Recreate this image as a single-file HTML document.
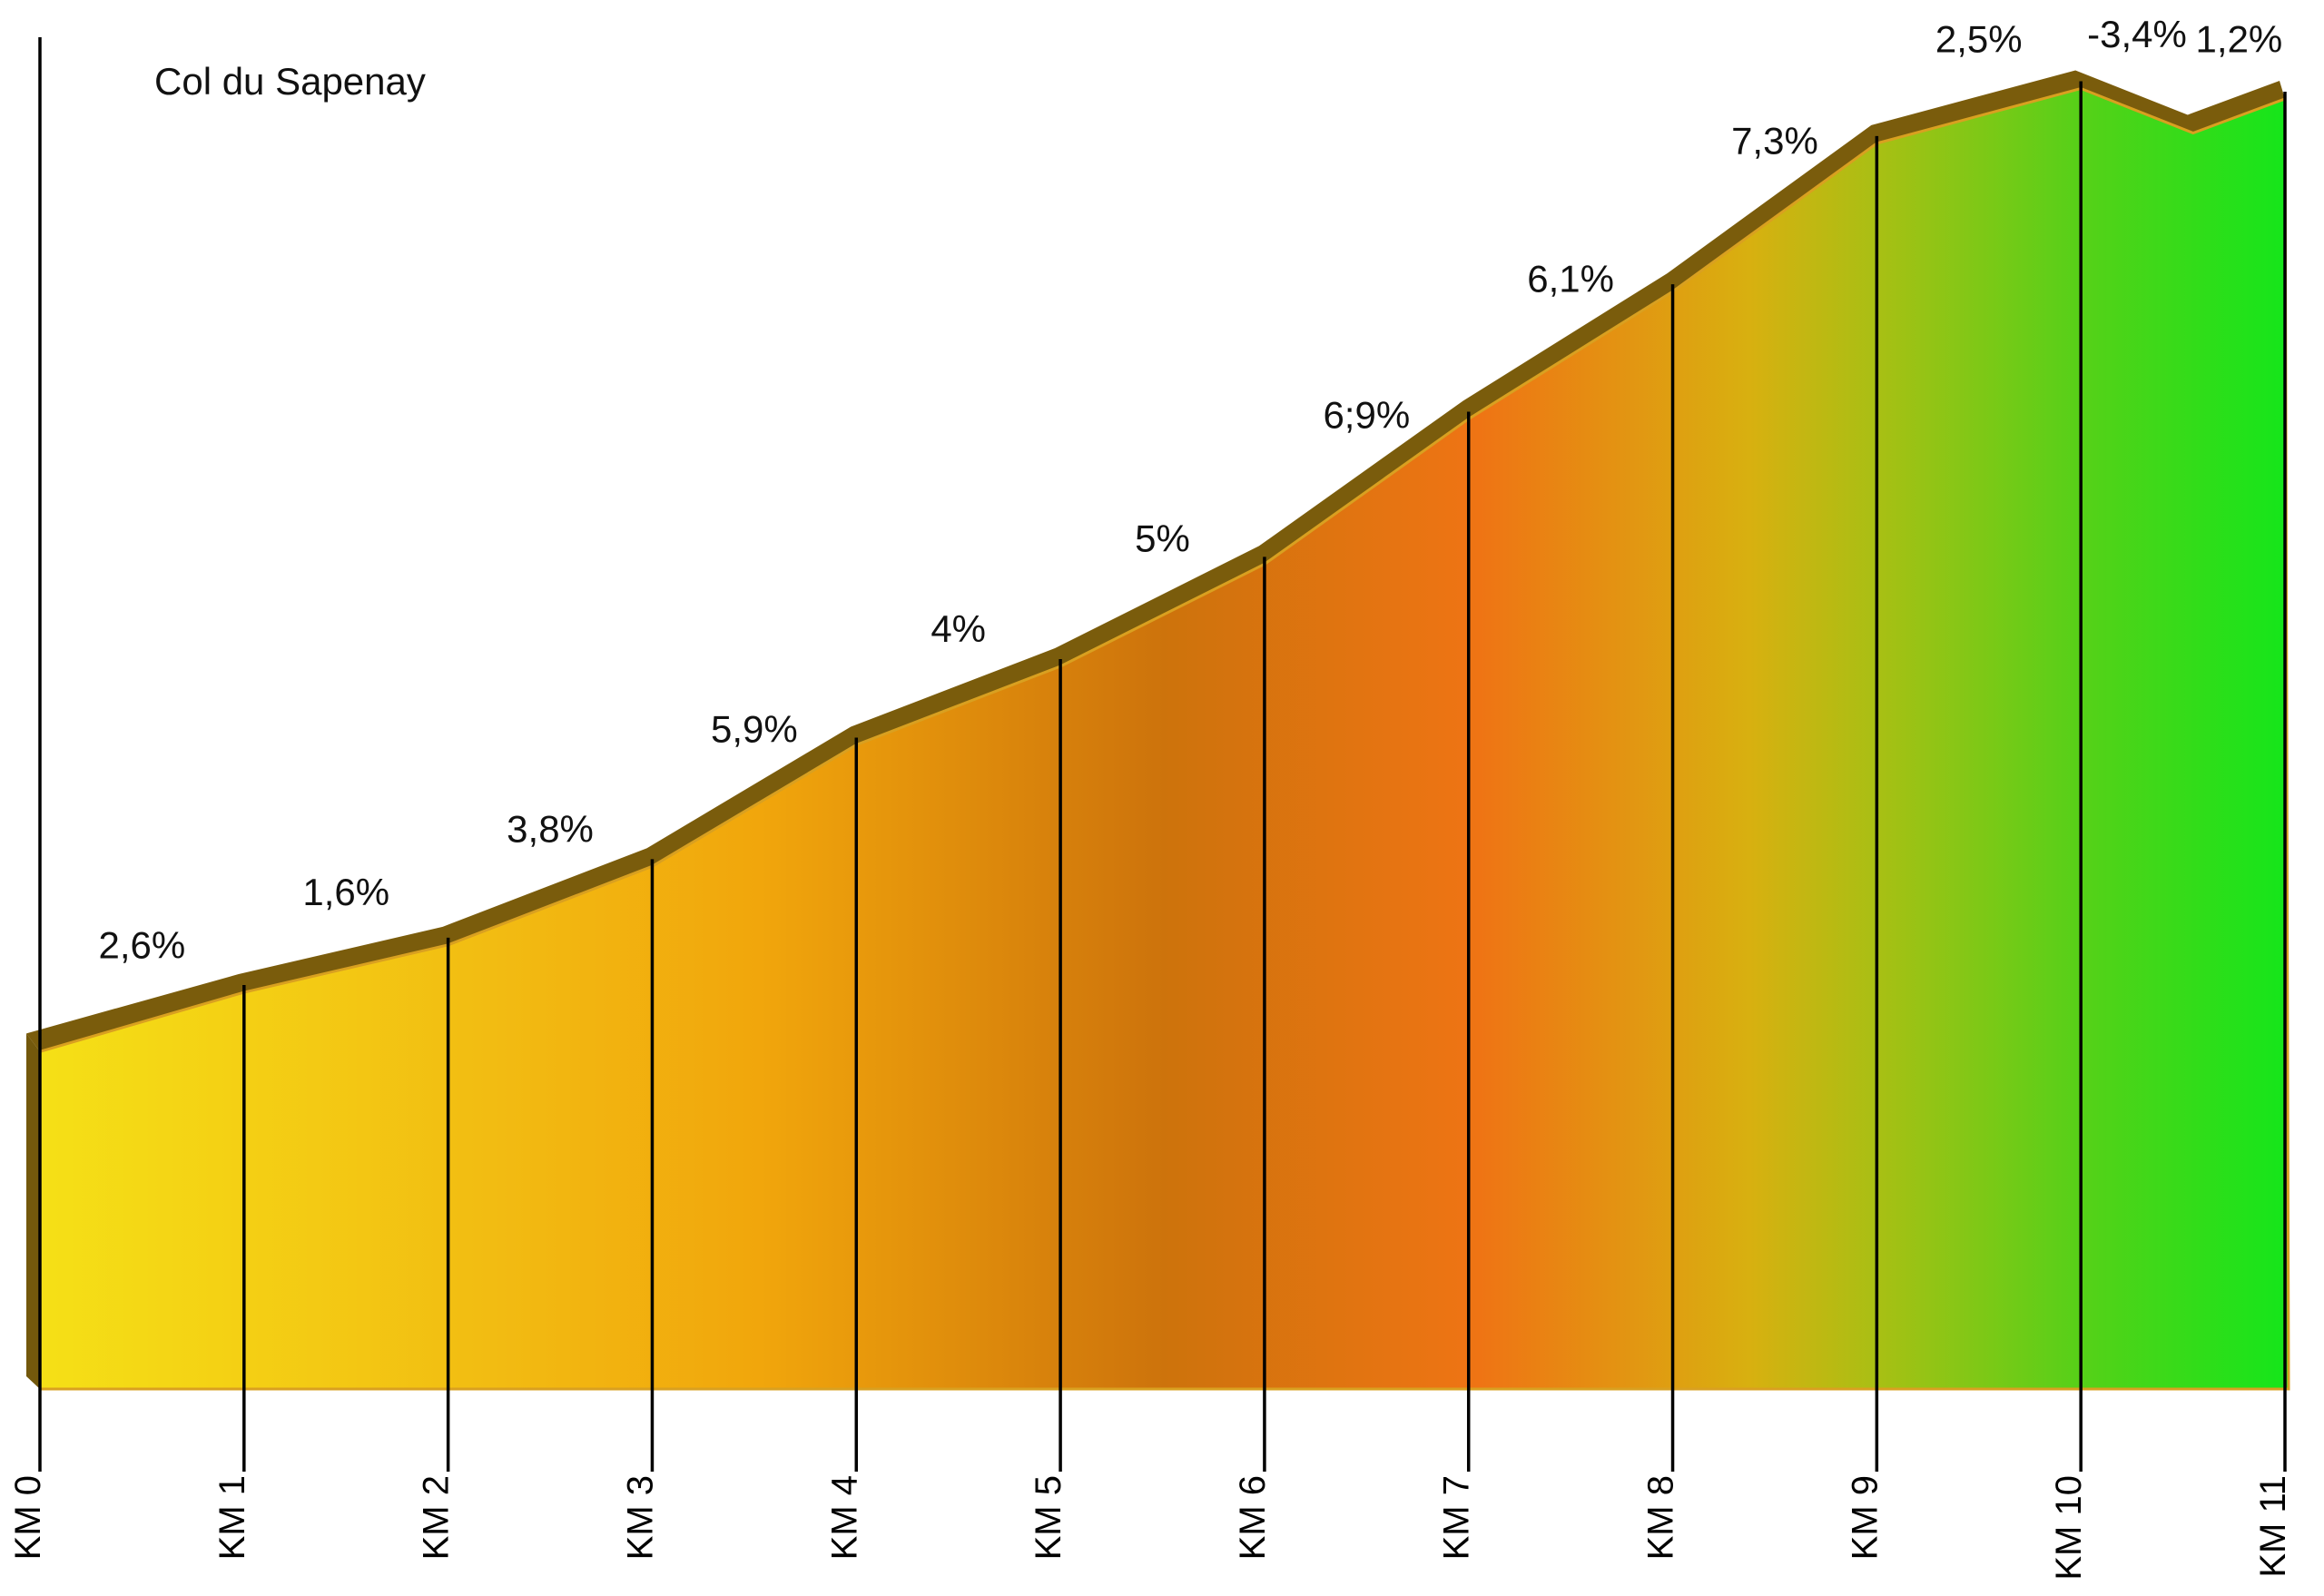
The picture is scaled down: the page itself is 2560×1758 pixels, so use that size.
<!DOCTYPE html>
<html><head><meta charset="utf-8"><style>
html,body{margin:0;padding:0;background:#fff;}
svg{display:block;font-family:"Liberation Sans",sans-serif;}
</style></head><body>
<svg id="chart" width="2560" height="1758" viewBox="0 0 2560 1758" xmlns="http://www.w3.org/2000/svg">
<defs>
<linearGradient id="fillGrad" x1="0" y1="0" x2="1" y2="0">
<stop offset="0" stop-color="#f5e016"/>
<stop offset="0.2" stop-color="#f2bc12"/>
<stop offset="0.32" stop-color="#f1a60c"/>
<stop offset="0.5" stop-color="#cd730c"/>
<stop offset="0.64" stop-color="#ef7414"/>
<stop offset="0.76" stop-color="#d8b010"/>
<stop offset="0.82" stop-color="#a6c014"/>
<stop offset="0.9" stop-color="#5ccf18"/>
<stop offset="1" stop-color="#14e61a"/>
</linearGradient>
</defs>
<text x="170" y="104" font-size="42" fill="#111">Col du Sapenay</text>
<g id="layer"></g>
</svg>
<script>
const kms = [0,1,2,3,4,5,6,7,8,9,10,10.55,11];
const elevation = [240,280,312,365,447,500,569,667,753,853,890,860,883];
const kmTicks = [0,1,2,3,4,5,6,7,8,9,10,11];
const tickLabels = ["KM 0","KM 1","KM 2","KM 3","KM 4","KM 5","KM 6","KM 7","KM 8","KM 9","KM 10","KM 11"];
const gradeLabels = ["2,6%","1,6%","3,8%","5,9%","4%","5%","6;9%","6,1%","7,3%","2,5%","-3,4%","1,2%"];

const NS="http://www.w3.org/2000/svg";
const X0=44, X1=2517, BASE=1530, K=1.632;
function xs(km){return X0+km*(X1-X0)/11;}
function ys(e){return BASE-e*K;}
const layer=document.getElementById('layer');
function mk(tag,attrs){const el=document.createElementNS(NS,tag);for(const k in attrs)el.setAttribute(k,attrs[k]);layer.appendChild(el);return el;}

const T=20, S=6;
const bandTop=kms.map((k,i)=>[xs(k)-S,ys(elevation[i])]);
bandTop[0][0]=xs(0)-15;
const bandLow=kms.map((k,i)=>[xs(k),ys(elevation[i])+T]);
const bandPts=bandTop.map(p=>p.join(',')).concat(bandLow.slice().reverse().map(p=>p.join(','))).join(' ');
const band=mk('polygon',{points:bandPts,fill:'#7a5c0c'});


const side=mk('polygon',{points:`${xs(0)-15},${bandTop[0][1]} ${xs(0)},${bandLow[0][1]} ${xs(0)},${BASE} ${xs(0)-15},${BASE-14}`,fill:'#73580c'});


const fillPts=bandLow.map(p=>p.join(',')).concat([[xs(11)+4,BASE].join(','),[xs(0),BASE].join(',')]).join(' ');
const area=mk('polygon',{points:fillPts,fill:'url(#fillGrad)',stroke:'#d9a020','stroke-width':3});



kmTicks.forEach((k,i)=>{
  const idx=kms.indexOf(k);
  const yTop = i===0 ? 41 : ys(elevation[idx])+T-8;
  const ln=mk('line',{x1:xs(k),x2:xs(k),y1:yTop,y2:1621,stroke:'#000','stroke-width':3.5});
  
  
  const t=mk('text',{x:xs(k),y:1625,'font-size':40,'text-anchor':'end',transform:`rotate(-90 ${xs(k)} 1625)`,fill:'#000'});
  t.textContent=tickLabels[i];
  
  
});

gradeLabels.forEach((g,i)=>{
  const mx=(xs(kms[i])+xs(kms[i+1]))/2;
  const my=(ys(elevation[i])+ys(elevation[i+1]))/2-65;
  const t=mk('text',{x:mx,y:my+15,'font-size':42,'text-anchor':'middle',fill:'#111'});
  t.textContent=g;
  
  
});
</script>
</body></html>
